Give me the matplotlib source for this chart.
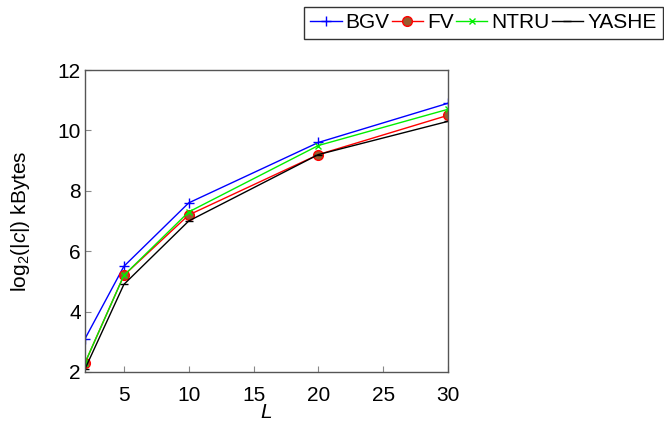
import matplotlib
matplotlib.use('Agg')
from matplotlib import pyplot as plt

plt.rcParams['font.family'] = ['Liberation Sans', 'DejaVu Sans']
plt.rcParams['mathtext.fontset'] = 'custom'
plt.rcParams['mathtext.rm'] = 'Liberation Sans'
plt.rcParams['mathtext.it'] = 'Liberation Sans:italic'

levels = [2, 5, 10, 20, 30]
bgv = [3.1, 5.5, 7.6, 9.6, 10.9]
fv = [2.3, 5.2, 7.2, 9.2, 10.5]
ntru = [2.3, 5.2, 7.3, 9.5, 10.7]
yashe = [2.1, 4.9, 7.0, 9.2, 10.3]

fig = plt.figure(figsize=(6.64, 4.21), dpi=100)
ax = fig.add_axes([0.128, 0.1164, 0.5467, 0.7173])

ax.plot(levels, bgv, color='blue', lw=1, marker='+', ms=7, mew=1, label='BGV')
ax.plot(levels, fv, color='red', lw=1, marker='o', ms=7, mfc='#9a5a2e',
        mec='red', mew=1, label='FV')
ax.plot(levels, ntru, color='#00ee00', lw=1, marker='x', ms=4, mew=1,
        label='NTRU')
ax.plot(levels, yashe, color='black', lw=1, marker='_', ms=6, mew=1,
        label='YASHE')

ax.set_xlim(2, 30)
ax.set_ylim(2, 12)
ax.set_xticks([5, 10, 15, 20, 25, 30])
ax.set_yticks([2, 4, 6, 8, 10, 12])
ax.tick_params(direction='in', length=4, color='#888888', labelsize=15)
ax.tick_params(axis='x', pad=10)
ax.tick_params(axis='y', pad=3)
for s in ax.spines.values():
    s.set_color('#555555')
    s.set_linewidth(1)

ax.set_xlabel('$L$', fontsize=15, labelpad=-1)
ax.set_ylabel('log$_2$(|$c$|) kBytes', fontsize=15, labelpad=18)

leg = fig.legend(loc='upper right', bbox_to_anchor=(0.998, 0.983), ncol=4,
                 fontsize=15, frameon=True, fancybox=False, edgecolor='black',
                 handlelength=1.5, handletextpad=0.2, columnspacing=0.1,
                 borderpad=0.3, borderaxespad=0)
leg.get_frame().set_linewidth(1)

fig.savefig('out.png', dpi=100)
